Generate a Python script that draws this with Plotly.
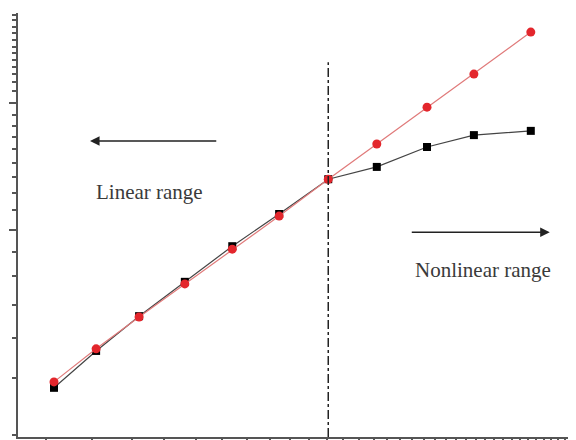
import plotly.graph_objects as go

# Data (arbitrary units)
x_vals = [0.645, 1.40, 2.17, 2.99, 3.84, 4.68, 5.56, 6.43, 7.33, 8.17, 9.19]
red_vals = [1.30, 2.08, 2.83, 3.61, 4.43, 5.21, 6.08, 6.91, 7.78, 8.56, 9.55]
black_vals = [1.16, 2.03, 2.85, 3.66, 4.50, 5.26, 6.08, 6.37, 6.84, 7.12, 7.22]

boundary_x = 5.56
boundary_top = 8.84

x_major_ticks = [5.54]
x_minor_ticks = [0.50, 1.33, 2.04, 2.62, 3.19, 3.66, 4.10, 4.52, 4.87, 5.22, 5.82, 6.11,
                 6.38, 6.61, 6.85, 7.06, 7.28, 7.47, 7.67, 7.85, 8.03, 8.21, 8.37, 8.53,
                 8.69, 8.85, 9.00, 9.14, 9.28, 9.43, 9.55, 9.68, 9.80, 9.93]
y_major_ticks = [7.88, 4.88]
y_minor_ticks = [9.95, 9.83, 9.67, 9.53, 9.36, 9.20, 9.06, 8.89, 8.73, 8.56, 8.37, 8.16,
                 7.59, 7.33, 7.08, 6.79, 6.46, 6.13, 5.75, 5.35, 4.36, 3.80, 3.11, 2.33,
                 1.39, 0.05]

fig = go.Figure()
fig.add_trace(go.Scatter(
    x=x_vals, y=black_vals, mode="lines+markers",
    line=dict(color="#444444", width=1.2),
    marker=dict(symbol="square", size=8, color="#000000"),
    showlegend=False))
fig.add_trace(go.Scatter(
    x=x_vals, y=red_vals, mode="lines+markers",
    line=dict(color="#e07a7a", width=1.2),
    marker=dict(symbol="circle", size=9, color="#e3262c"),
    showlegend=False))

fig.add_shape(type="line", x0=boundary_x, x1=boundary_x, y0=0, y1=boundary_top,
              xref="x", yref="y", line=dict(color="#222222", width=1.5, dash="dashdot"))

fig.add_annotation(x=1.29, y=6.98, ax=3.58, ay=6.98, xref="x", yref="y", axref="x", ayref="y",
                   showarrow=True, arrowhead=2, arrowsize=1.2, arrowwidth=1.6,
                   arrowcolor="#222222", text="")
fig.add_annotation(x=9.53, y=4.83, ax=7.03, ay=4.83, xref="x", yref="y", axref="x", ayref="y",
                   showarrow=True, arrowhead=2, arrowsize=1.2, arrowwidth=1.6,
                   arrowcolor="#222222", text="")
fig.add_annotation(x=2.35, y=5.78, xref="x", yref="y", showarrow=False,
                   text="Linear range",
                   font=dict(family="Liberation Serif", size=21, color="#3a3a3a"))
fig.add_annotation(x=8.33, y=3.94, xref="x", yref="y", showarrow=False,
                   text="Nonlinear range",
                   font=dict(family="Liberation Serif", size=21, color="#3a3a3a"))

# The page body adds an 8px offset, so the figure is sized to fit the window.
fig.update_layout(
    width=568, height=432,
    margin=dict(l=10, r=0, t=5, b=3),
    paper_bgcolor="white", plot_bgcolor="white",
    xaxis=dict(range=[0, 10], showgrid=False, zeroline=False, automargin=False,
               showline=True, linecolor="#555555", linewidth=2,
               ticks="outside", tickmode="array", tickvals=x_major_ticks,
               ticklen=5, tickwidth=1.5, tickcolor="#555555", showticklabels=False,
               minor=dict(tickmode="array", tickvals=x_minor_ticks, ticks="outside",
                          ticklen=3, tickwidth=1.5, tickcolor="#555555", showgrid=False)),
    yaxis=dict(range=[0, 10], showgrid=False, zeroline=False, automargin=False,
               showline=True, linecolor="#555555", linewidth=2,
               ticks="outside", tickmode="array", tickvals=y_major_ticks,
               ticklen=7, tickwidth=1.5, tickcolor="#555555", showticklabels=False,
               minor=dict(tickmode="array", tickvals=y_minor_ticks, ticks="outside",
                          ticklen=4, tickwidth=1.5, tickcolor="#555555", showgrid=False)),
)

fig.write_html("out.html")
